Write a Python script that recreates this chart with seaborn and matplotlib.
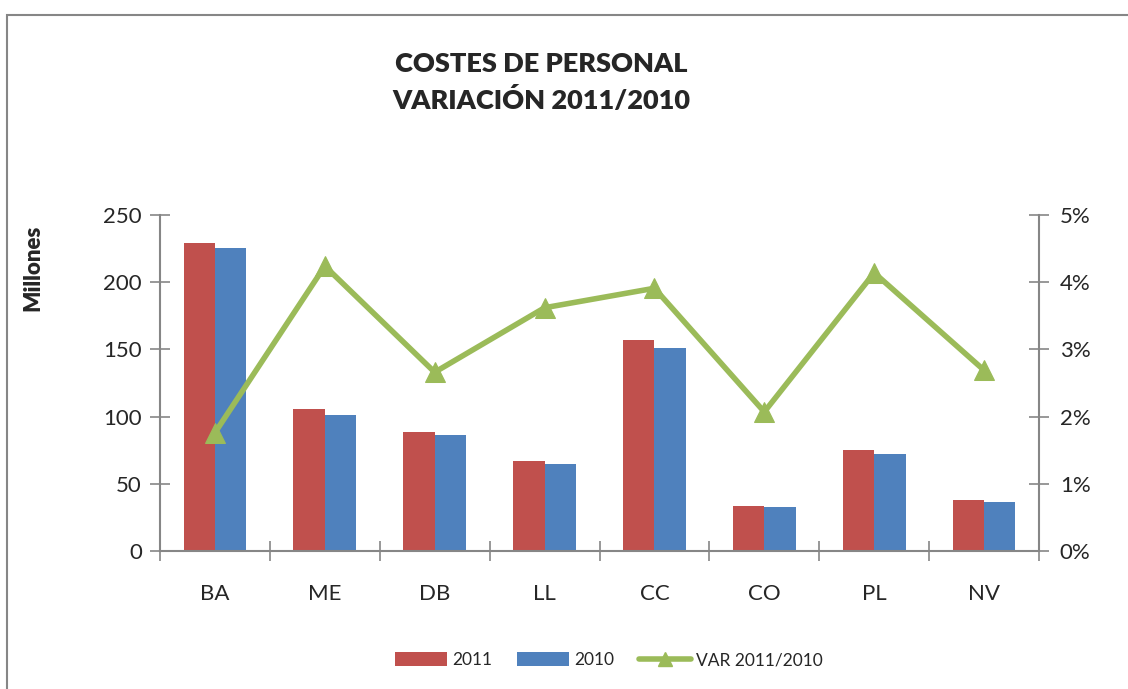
import matplotlib
matplotlib.use("Agg")
import matplotlib.pyplot as plt
import seaborn as sns
import pandas as pd
import numpy as np
from matplotlib.patches import Rectangle, Patch
from matplotlib.lines import Line2D
from matplotlib.ticker import FuncFormatter, MultipleLocator

categories = ["BA", "ME", "DB", "LL", "CC", "CO", "PL", "NV"]
values_2011 = [229, 105.5, 88.7, 67, 157, 33.5, 75.3, 37.9]
values_2010 = [225.3, 101.2, 86.3, 64.7, 151, 32.8, 72.3, 36.6]
var_pct = [1.76, 4.24, 2.66, 3.62, 3.91, 2.07, 4.14, 2.69]
series_names = ["2011", "2010"]
line_name = "VAR 2011/2010"

sns.set_theme(style="white")
plt.rcParams['font.family'] = ['Lato', 'DejaVu Sans']

c2011 = "#C0504D"
c2010 = "#4F81BD"
cline = "#9BBB59"
gray = "#868686"

df = pd.DataFrame({
    "cat": categories * 2,
    "serie": [series_names[0]] * len(categories) + [series_names[1]] * len(categories),
    "val": values_2011 + values_2010,
})

fig = plt.figure(figsize=(11.28, 6.89), dpi=100)
fig.patch.set_facecolor("white")
fig.add_artist(Rectangle((7/1128, -0.2), 1.2, (689-15)/689 + 0.2, transform=fig.transFigure,
                         fill=False, edgecolor=gray, linewidth=1.5))

ax = fig.add_axes([160/1128, (689-551)/689, (1039-160)/1128, (551-215)/689])
sns.barplot(data=df, x="cat", y="val", hue="serie", order=categories,
            hue_order=series_names, palette=[c2011, c2010], width=0.57,
            saturation=1, ax=ax, legend=False, edgecolor="none")
for p in ax.patches:
    p.set_linewidth(0)

ax.set_ylim(0, 250)
ax.set_xlim(-0.5, len(categories) - 0.5)
ax.yaxis.set_major_locator(MultipleLocator(50))
ax.set_xlabel("")
ax.set_ylabel("")
for s in ["top", "right"]:
    ax.spines[s].set_visible(False)
for s in ["left", "bottom"]:
    ax.spines[s].set_color(gray)
    ax.spines[s].set_linewidth(1.5)
ax.tick_params(axis="y", direction="inout", length=14, width=1.2, color=gray,
               labelsize=16, pad=6, left=True)
ax.set_xticks(np.arange(len(categories)))
ax.set_xticklabels(categories, fontsize=16)
ax.tick_params(axis="x", which="major", length=0, pad=24)
ax.set_xticks(np.arange(-0.5, len(categories) + 0.5, 1), minor=True)
ax.tick_params(axis="x", which="minor", direction="inout", length=14, width=1.2,
               color=gray, bottom=True)

ax2 = ax.twinx()
sns.lineplot(x=np.arange(len(categories)), y=var_pct, ax=ax2, color=cline,
             linewidth=4, marker="^", markersize=14, markeredgecolor=cline,
             markerfacecolor=cline)
ax2.set_ylim(0, 5)
ax2.yaxis.set_major_locator(MultipleLocator(1))
ax2.yaxis.set_major_formatter(FuncFormatter(lambda v, p: f"{int(round(v))}%"))
for s in ["top", "left", "bottom"]:
    ax2.spines[s].set_visible(False)
ax2.spines["right"].set_color(gray)
ax2.spines["right"].set_linewidth(1.5)
ax2.tick_params(axis="y", direction="inout", length=14, width=1.2, color=gray,
                labelsize=16, pad=8, right=True)
ax2.grid(False)
ax.grid(False)

fig.text(541/1128, 1 - 83/689, "COSTES DE PERSONAL\nVARIACIÓN 2011/2010",
         ha="center", va="center", fontsize=19.5, fontweight="heavy", linespacing=1.5)
fig.text(33/1128, 1 - 268/689, "Millones", rotation=90, ha="center", va="center",
         fontsize=16, fontweight="heavy")

handles = [Patch(facecolor=c2011, edgecolor="none"),
           Patch(facecolor=c2010, edgecolor="none"),
           Line2D([0], [0], color=cline, linewidth=4, marker="^", markersize=10)]
fig.legend(handles, series_names + [line_name], loc="center",
           bbox_to_anchor=(609/1128, 1 - 660/689), ncol=3, frameon=False,
           fontsize=12.5, handlelength=3.0, handleheight=0.9, columnspacing=1.4,
           handletextpad=0.3)

fig.savefig("out.png", dpi=100, facecolor="white")
